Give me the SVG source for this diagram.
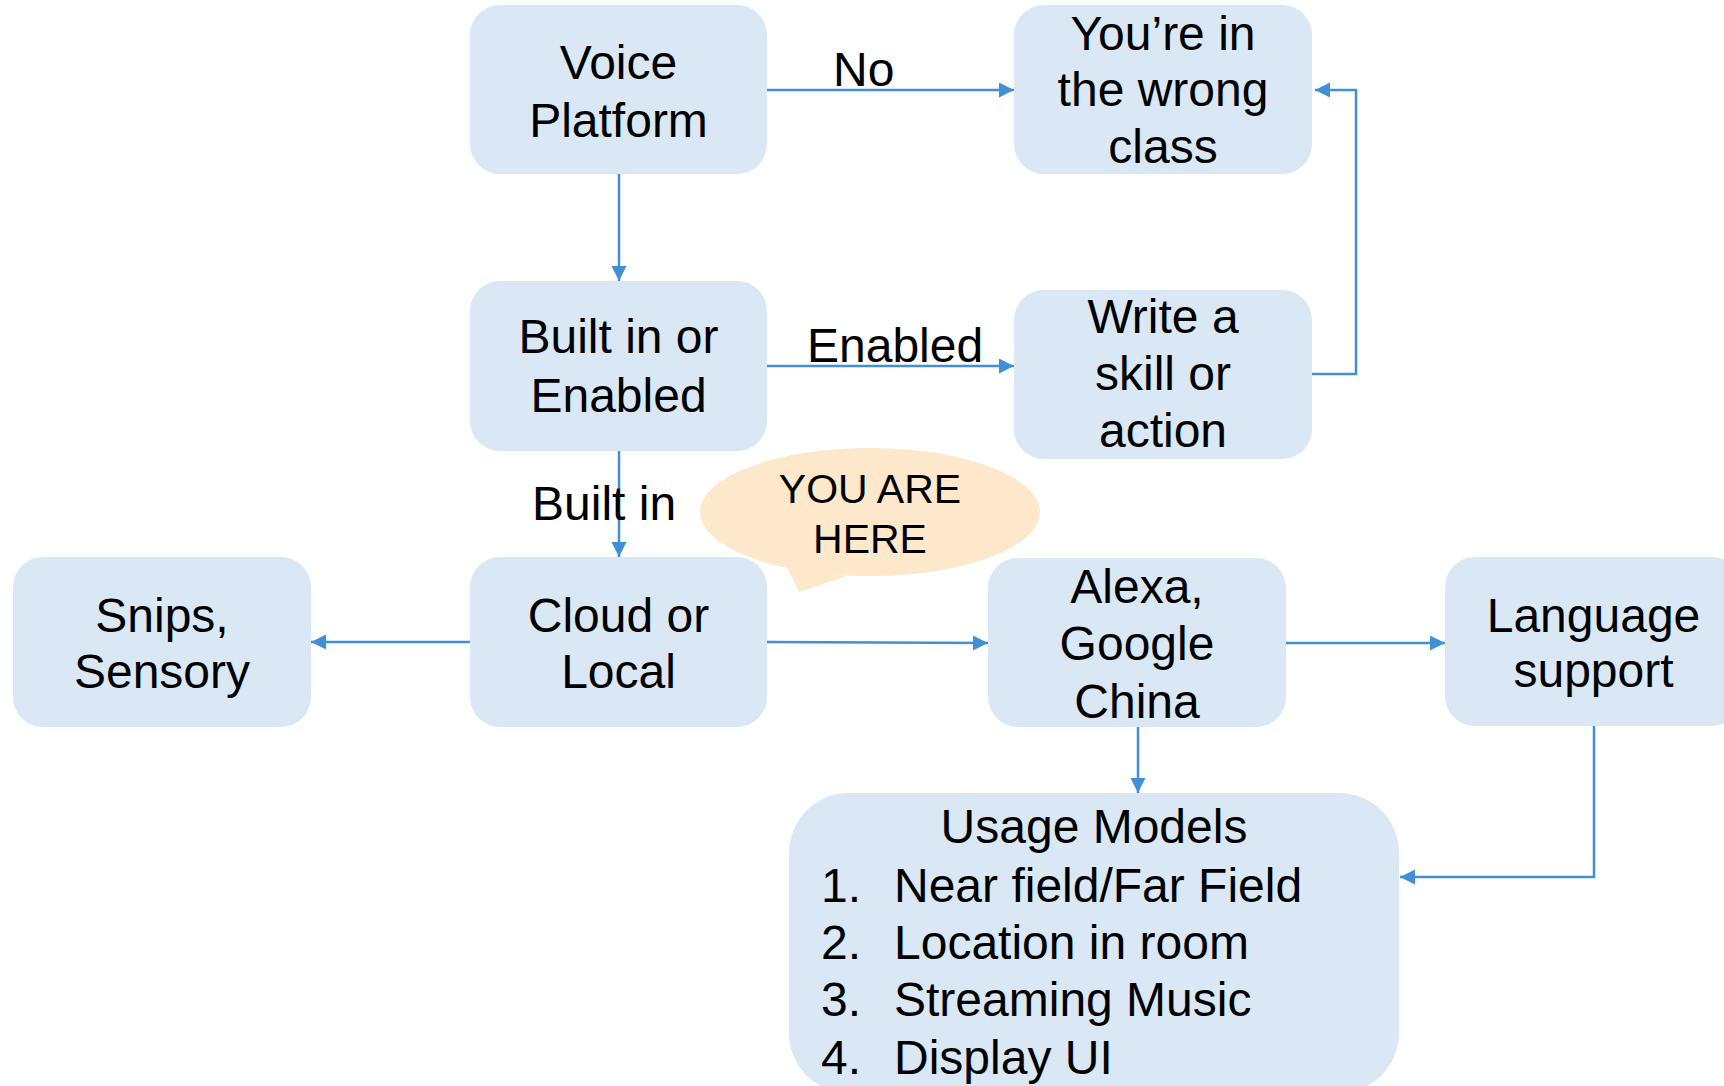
<svg xmlns="http://www.w3.org/2000/svg" width="1724" height="1086" viewBox="0 0 1724 1086">
  <style>
    .box { fill: #dae8f5; }
    .bubble { fill: #fde8cc; }
    .t { font-family: "Liberation Sans", Arial, sans-serif; font-size: 48px; fill: #000; }
    .c { text-anchor: middle; }
    .s { font-size: 41px; }
    .edge { fill: none; stroke: #418fd6; stroke-width: 2.5; marker-end: url(#arrow); }
  </style>
  <defs>
    <marker id="arrow" markerUnits="userSpaceOnUse" markerWidth="16" markerHeight="16" refX="15" refY="7.5" orient="auto">
      <path d="M0,0 L15,7.5 L0,15 z" fill="#418fd6"/>
    </marker>
  </defs>
  <rect width="1724" height="1086" fill="#fff"/>

  <g id="connectors">
    <path class="edge" d="M767,90 H1014"/>
    <path class="edge" d="M1312,374 H1356 V90 H1315"/>
    <path class="edge" d="M619,174 V281"/>
    <path class="edge" d="M767,366 H1014"/>
    <path class="edge" d="M619,451 V557"/>
    <path class="edge" d="M470,642 H311"/>
    <path class="edge" d="M767,642 L988,643"/>
    <path class="edge" d="M1286,643 H1445"/>
    <path class="edge" d="M1138,727 V793"/>
    <path class="edge" d="M1594,726 V877 H1400"/>
    <text class="t" x="833" y="86">No</text>
    <text class="t" x="807" y="362">Enabled</text>
    <text class="t" x="532" y="520">Built in</text>
  </g>

  <g id="voice-platform">
    <rect class="box" x="470" y="5" width="297" height="169" rx="30"/>
    <text class="t c" x="618.5" y="79">Voice</text>
    <text class="t c" x="618.5" y="137">Platform</text>
  </g>

  <g id="wrong-class">
    <rect class="box" x="1014" y="5" width="298" height="169" rx="30"/>
    <text class="t c" x="1163" y="50">You’re in</text>
    <text class="t c" x="1163" y="106">the wrong</text>
    <text class="t c" x="1163" y="163">class</text>
  </g>

  <g id="built-in-or-enabled">
    <rect class="box" x="470" y="281" width="297" height="170" rx="30"/>
    <text class="t c" x="618.5" y="353">Built in or</text>
    <text class="t c" x="618.5" y="412">Enabled</text>
  </g>

  <g id="write-skill">
    <rect class="box" x="1014" y="290" width="298" height="169" rx="30"/>
    <text class="t c" x="1163" y="333">Write a</text>
    <text class="t c" x="1163" y="390">skill or</text>
    <text class="t c" x="1163" y="447">action</text>
  </g>

  <g id="snips-sensory">
    <rect class="box" x="13" y="557" width="298" height="170" rx="30"/>
    <text class="t c" x="162" y="632">Snips,</text>
    <text class="t c" x="162" y="688">Sensory</text>
  </g>

  <g id="cloud-or-local">
    <rect class="box" x="470" y="557" width="297" height="170" rx="30"/>
    <text class="t c" x="618.5" y="632">Cloud or</text>
    <text class="t c" x="618.5" y="688">Local</text>
  </g>

  <g id="alexa-google-china">
    <rect class="box" x="988" y="558" width="298" height="169" rx="30"/>
    <text class="t c" x="1137" y="603">Alexa,</text>
    <text class="t c" x="1137" y="660">Google</text>
    <text class="t c" x="1137" y="718">China</text>
  </g>

  <g id="language-support">
    <rect class="box" x="1445" y="557" width="297" height="169" rx="30"/>
    <text class="t c" x="1593.5" y="632">Language</text>
    <text class="t c" x="1593.5" y="687">support</text>
  </g>

  <g id="usage-models">
    <rect class="box" x="789" y="793" width="610" height="300" rx="60"/>
    <text class="t c" x="1094" y="843">Usage Models</text>
    <text class="t" x="821" y="902">1.</text>
    <text class="t" x="894" y="902">Near field/Far Field</text>
    <text class="t" x="821" y="959">2.</text>
    <text class="t" x="894" y="959">Location in room</text>
    <text class="t" x="821" y="1016">3.</text>
    <text class="t" x="894" y="1016">Streaming Music</text>
    <text class="t" x="821" y="1074">4.</text>
    <text class="t" x="894" y="1074">Display UI</text>
  </g>

  <g id="you-are-here">
    <path class="bubble" d="M787,568 L799,592 L847,576 Z"/>
    <ellipse class="bubble" cx="870" cy="512" rx="170" ry="64"/>
    <text class="t s c" x="870" y="503">YOU ARE</text>
    <text class="t s c" x="870" y="553">HERE</text>
  </g>
</svg>
